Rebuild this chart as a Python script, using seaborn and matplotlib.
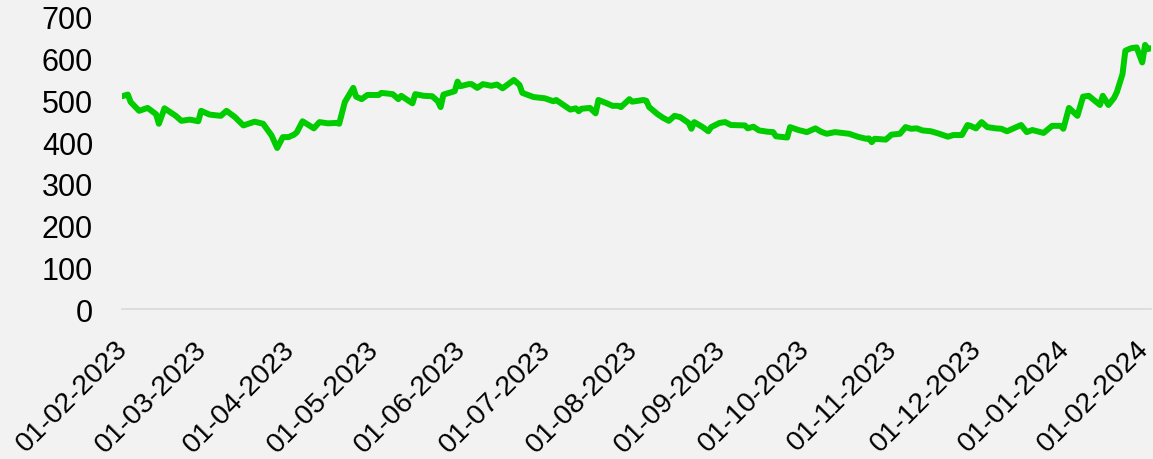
import pandas as pd
import seaborn as sns
import matplotlib.pyplot as plt
import matplotlib.dates as mdates
from matplotlib.transforms import ScaledTranslation

dates = [
    "2023-02-01", "2023-02-03", "2023-02-04", "2023-02-07", "2023-02-10", "2023-02-13", "2023-02-14",
    "2023-02-16", "2023-02-20", "2023-02-22", "2023-02-25", "2023-02-28", "2023-03-01", "2023-03-04",
    "2023-03-08", "2023-03-10", "2023-03-13", "2023-03-16", "2023-03-20", "2023-03-23", "2023-03-26",
    "2023-03-28", "2023-03-30", "2023-04-01", "2023-04-03", "2023-04-04", "2023-04-06", "2023-04-10",
    "2023-04-12", "2023-04-15", "2023-04-18", "2023-04-19", "2023-04-21", "2023-04-24", "2023-04-25",
    "2023-04-27", "2023-04-29", "2023-05-03", "2023-05-04", "2023-05-08", "2023-05-10", "2023-05-11",
    "2023-05-15", "2023-05-16", "2023-05-19", "2023-05-22", "2023-05-24", "2023-05-25", "2023-05-26",
    "2023-05-30", "2023-05-31", "2023-06-01", "2023-06-04", "2023-06-05", "2023-06-07", "2023-06-09",
    "2023-06-12", "2023-06-14", "2023-06-16", "2023-06-20", "2023-06-22", "2023-06-23", "2023-06-27",
    "2023-07-01", "2023-07-04", "2023-07-05", "2023-07-10", "2023-07-12", "2023-07-13", "2023-07-14",
    "2023-07-17", "2023-07-19", "2023-07-20", "2023-07-23", "2023-07-25", "2023-07-27", "2023-07-28",
    "2023-07-31", "2023-08-01", "2023-08-05", "2023-08-06", "2023-08-07", "2023-08-10", "2023-08-12",
    "2023-08-14", "2023-08-16", "2023-08-18", "2023-08-21", "2023-08-22", "2023-08-23", "2023-08-26",
    "2023-08-28", "2023-08-29", "2023-09-01", "2023-09-03", "2023-09-05", "2023-09-10", "2023-09-11",
    "2023-09-13", "2023-09-15", "2023-09-18", "2023-09-20", "2023-09-21", "2023-09-25", "2023-09-26",
    "2023-09-29", "2023-10-02", "2023-10-05", "2023-10-07", "2023-10-09", "2023-10-12", "2023-10-17",
    "2023-10-20", "2023-10-23", "2023-10-24", "2023-10-25", "2023-10-26", "2023-10-30", "2023-11-01",
    "2023-11-04", "2023-11-06", "2023-11-08", "2023-11-10", "2023-11-12", "2023-11-15", "2023-11-18",
    "2023-11-21", "2023-11-23", "2023-11-26", "2023-11-28", "2023-11-29", "2023-12-01", "2023-12-03",
    "2023-12-05", "2023-12-08", "2023-12-10", "2023-12-12", "2023-12-14", "2023-12-17", "2023-12-19",
    "2023-12-21", "2023-12-25", "2023-12-28", "2023-12-31", "2024-01-01", "2024-01-03", "2024-01-06",
    "2024-01-08", "2024-01-10", "2024-01-14", "2024-01-15", "2024-01-17", "2024-01-19", "2024-01-20",
    "2024-01-22", "2024-01-23", "2024-01-25", "2024-01-27", "2024-01-29", "2024-01-30", "2024-01-31",
    "2024-02-01",
]
values = [
    510, 514, 496, 475, 482, 467, 444,
    481, 463, 451, 454, 450, 475, 466,
    463, 475, 460, 440, 449, 444, 416,
    386, 412, 412, 418, 424, 450, 433,
    448, 445, 446, 444, 496, 530, 509,
    503, 513, 513, 518, 515, 503, 511,
    493, 515, 511, 510, 498, 484, 514,
    522, 545, 534, 539, 539, 530, 539,
    535, 538, 529, 549, 537, 518, 508,
    505, 498, 501, 478, 481, 474, 480,
    482, 469, 501, 493, 487, 487, 484,
    503, 497, 501, 499, 484, 467, 458,
    451, 463, 460, 446, 432, 448, 436,
    426, 436, 446, 448, 441, 440, 433,
    437, 428, 425, 424, 414, 411, 436,
    429, 424, 433, 425, 420, 424, 420,
    413, 408, 409, 400, 408, 406, 418,
    420, 436, 432, 433, 428, 426, 420,
    413, 417, 417, 441, 439, 433, 448,
    436, 433, 432, 426, 432, 441, 424,
    429, 422, 439, 439, 432, 482, 463,
    509, 511, 489, 511, 489, 506, 520,
    563, 619, 625, 627, 591, 633, 623,
    625,
]
tick_dates = pd.date_range("2023-02-01", "2024-02-01", freq="MS")

df = pd.DataFrame({"date": pd.to_datetime(dates), "value": values})

bg = "#F2F2F2"
sns.set_style("white")
plt.rcParams["font.family"] = ["Liberation Sans", "DejaVu Sans"]

fig = plt.figure(figsize=(11.53, 4.6), dpi=100, facecolor=bg)
ax = fig.add_axes([0.106, 0.326, 0.892, 0.635])
ax.set_facecolor(bg)

sns.lineplot(data=df, x="date", y="value", color="#00CC00", linewidth=4.3, ax=ax)

ax.set_xlim(pd.Timestamp("2023-02-01"), pd.Timestamp("2024-02-01"))
ax.set_ylim(0, 700)
ax.set_yticks(range(0, 701, 100))
ax.set_xticks(tick_dates)
ax.xaxis.set_major_formatter(mdates.DateFormatter("%d-%m-%Y"))
ax.set_xlabel("")
ax.set_ylabel("")

for s in ["top", "right", "left"]:
    ax.spines[s].set_visible(False)
ax.spines["bottom"].set_color("#D9D9D9")
ax.spines["bottom"].set_linewidth(1.2)

ax.tick_params(axis="y", length=0, pad=21, labelsize=22, colors="black")
ax.tick_params(axis="x", length=0, pad=17, labelsize=20.5, colors="black")
labels = ax.get_xticklabels()
for i, lbl in enumerate(labels):
    lbl.set_rotation(45)
    lbl.set_ha("right")
    lbl.set_va("center")
    lbl.set_rotation_mode("anchor")
    dx = -6 if i == len(labels) - 1 else 2
    lbl.set_transform(lbl.get_transform() + ScaledTranslation(dx / 100, -12 / 100, fig.dpi_scale_trans))

fig.savefig("out.png", dpi=100, facecolor=bg)
